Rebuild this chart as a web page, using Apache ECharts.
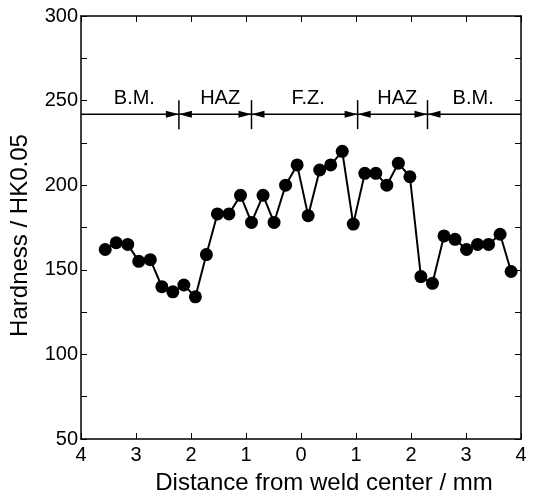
<!DOCTYPE html>
<html>
<head>
<meta charset="utf-8">
<script src="https://cdn.jsdelivr.net/npm/echarts@6/dist/echarts.min.js"></script>
<style>
  html, body { margin: 0; padding: 0; background: #fff; }
  #chart { width: 536px; height: 500px; }
</style>
</head>
<body>
<div id="chart"></div>
<script>
// hardness profile across the weld
var distance = [-3.56, -3.36, -3.15, -2.95, -2.74, -2.53, -2.33, -2.13, -1.92, -1.72,
  -1.52, -1.31, -1.10, -0.90, -0.69, -0.49, -0.28, -0.07, 0.13, 0.34,
  0.54, 0.75, 0.95, 1.16, 1.36, 1.56, 1.77, 1.98, 2.18, 2.39,
  2.60, 2.80, 3.01, 3.21, 3.41, 3.62, 3.82];
var hardness = [162, 166, 165, 155, 156, 140, 137, 141, 134, 159,
  183, 183, 194, 178, 194, 178, 200, 212, 182, 209,
  212, 220, 177, 207, 207, 200, 213, 205, 146, 142,
  170, 168, 162, 165, 165, 171, 149];

// zone annotation
var zoneY = 242;
var zoneBounds = [-2.22, -0.90, 1.03, 2.30];
var zoneNames = ['B.M.', 'HAZ', 'F.Z.', 'HAZ', 'B.M.'];
var zoneNameX = [-3.03, -1.47, 0.13, 1.75, 3.13];

var xTicks = [-4, -3, -2, -1, 0, 1, 2, 3, 4];
var yTicks = [50, 100, 150, 200, 250, 300];

var FONT = 'Liberation Sans, Arial, sans-serif';
var chart = echarts.init(document.getElementById('chart'));

function frameAxis(extra) {
  return Object.assign({
    axisLine: { show: true, onZero: false, lineStyle: { color: '#000', width: 1.5 } },
    axisTick: { show: true, inside: true, length: 6, lineStyle: { color: '#000', width: 1 } },
    splitLine: { show: false }
  }, extra);
}

var minorY = { show: true, splitNumber: 2, length: 6, lineStyle: { color: '#000', width: 1 } };

chart.setOption({
  animation: false,
  grid: { left: 81, right: 15, top: 16, bottom: 57 },
  xAxis: [
    frameAxis({
      type: 'value', min: xTicks[0], max: xTicks[xTicks.length - 1], interval: 1,
      name: 'Distance from weld center / mm', nameLocation: 'middle', nameGap: 32,
      nameTextStyle: { fontFamily: FONT, fontSize: 24, color: '#000', padding: [0, 0, 0, 46] },
      axisLabel: {
        fontFamily: FONT, fontSize: 20, color: '#000', margin: 6,
        formatter: function (v) { return Math.abs(v); }
      }
    }),
    frameAxis({
      type: 'value', position: 'top', min: xTicks[0], max: xTicks[xTicks.length - 1], interval: 1,
      axisLabel: { show: false }
    })
  ],
  yAxis: [
    frameAxis({
      type: 'value', min: yTicks[0], max: yTicks[yTicks.length - 1], interval: 50,
      name: 'Hardness / HK0.05', nameLocation: 'middle', nameGap: 49,
      nameTextStyle: { fontFamily: FONT, fontSize: 24, color: '#000', padding: [0, 16, 0, 0] },
      axisLabel: { fontFamily: FONT, fontSize: 20, color: '#000', margin: 3 },
      minorTick: minorY
    }),
    frameAxis({
      type: 'value', position: 'right', min: yTicks[0], max: yTicks[yTicks.length - 1], interval: 50,
      axisLabel: { show: false },
      minorTick: minorY
    })
  ],
  series: [
    {
      type: 'line',
      data: distance.map(function (d, i) { return [d, hardness[i]]; }),
      symbol: 'circle', symbolSize: 13,
      itemStyle: { color: '#000' },
      lineStyle: { color: '#000', width: 2 },
      z: 5
    },
    {
      // horizontal zone line
      type: 'line',
      data: [[xTicks[0], zoneY], [xTicks[xTicks.length - 1], zoneY]],
      symbol: 'none',
      lineStyle: { color: '#000', width: 1.5 },
      z: 3
    },
    {
      // separators with arrowheads
      type: 'custom',
      data: zoneBounds.map(function (b) { return [b, zoneY]; }),
      renderItem: function (params, api) {
        var p = api.coord([api.value(0), api.value(1)]);
        var x = p[0], y = p[1];
        return {
          type: 'group',
          children: [
            { type: 'line', shape: { x1: x, y1: y - 14, x2: x, y2: y + 15 }, style: { stroke: '#000', lineWidth: 1.5 } },
            { type: 'polygon', shape: { points: [[x, y], [x - 13, y - 3.5], [x - 13, y + 3.5]] }, style: { fill: '#000' } },
            { type: 'polygon', shape: { points: [[x, y], [x + 13, y - 3.5], [x + 13, y + 3.5]] }, style: { fill: '#000' } }
          ]
        };
      },
      z: 4
    },
    {
      // zone names
      type: 'custom',
      data: zoneNameX.map(function (x) { return [x, zoneY]; }),
      renderItem: function (params, api) {
        var p = api.coord([api.value(0), api.value(1)]);
        return {
          type: 'text',
          style: {
            x: p[0], y: p[1] - 6,
            text: zoneNames[params.dataIndex],
            fontFamily: FONT, fontSize: 20, fill: '#000',
            align: 'center', verticalAlign: 'bottom'
          }
        };
      },
      z: 4
    }
  ]
});
</script>
</body>
</html>
